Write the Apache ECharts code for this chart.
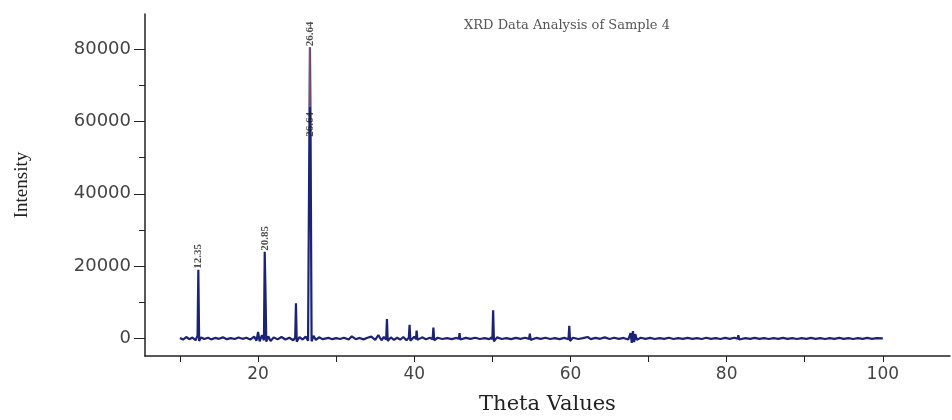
<!DOCTYPE html>
<html>
<head>
<meta charset="utf-8">
<script src="https://cdn.jsdelivr.net/npm/echarts@6/dist/echarts.min.js"></script>
<style>
  html, body { margin: 0; padding: 0; background: #fff; }
  #main { width: 952px; height: 420px; }
</style>
</head>
<body>
<div id="main"></div>
<script>
// XRD scan
var theta = [
  10.0, 10.4, 10.8, 11.2, 11.6, 12.0, 12.25, 12.35, 12.45, 12.7, 13.1, 13.6, 14.0, 14.5, 15.0, 15.5,
  16.0, 16.5, 17.0, 17.5, 18.0, 18.5, 19.0, 19.5, 19.8, 20.0, 20.2, 20.5, 20.75, 20.85, 20.95, 21.05,
  21.3, 21.6, 22.0, 22.5, 23.0, 23.5, 24.0, 24.5, 24.75, 24.85, 24.95, 25.3, 25.7, 26.1, 26.4, 26.64,
  26.72, 26.85, 27.1, 27.4, 27.8, 28.3, 29.0, 29.5, 30.0, 30.5, 31.0, 31.6, 32.0, 32.5, 33.0, 33.5,
  34.0, 34.5, 35.0, 35.4, 35.8, 36.1, 36.4, 36.5, 36.6, 37.0, 37.4, 37.8, 38.2, 38.6, 39.0, 39.3,
  39.4, 39.5, 40.0, 40.22, 40.3, 40.4, 41.0, 41.5, 42.0, 42.35, 42.45, 42.55, 43.0, 43.6, 44.2, 44.8,
  45.4, 45.7, 45.8, 45.9, 46.6, 47.2, 47.8, 48.4, 49.0, 49.6, 49.9, 50.0, 50.1, 50.2, 50.6, 51.2,
  51.8, 52.4, 53.0, 53.6, 54.2, 54.7, 54.8, 54.9, 55.6, 56.2, 56.8, 57.4, 58.0, 58.6, 59.2, 59.75,
  59.85, 59.95, 60.3, 61.0, 61.6, 62.2, 62.6, 63.2, 63.8, 64.4, 65.0, 65.6, 66.2, 66.8, 67.4, 67.7,
  67.85, 68.0, 68.15, 68.3, 68.5, 69.0, 69.6, 70.2, 70.8, 71.4, 72.0, 72.6, 73.2, 73.8, 74.4, 75.0,
  75.6, 76.2, 76.8, 77.4, 78.0, 78.6, 79.2, 79.8, 80.4, 81.0, 81.4, 81.5, 81.6, 82.4, 83.0, 83.6,
  84.2, 84.8, 85.4, 86.0, 86.6, 87.2, 87.8, 88.4, 89.0, 89.6, 90.2, 90.8, 91.4, 92.0, 92.6, 93.2,
  93.8, 94.4, 95.0, 95.6, 96.2, 96.8, 97.4, 98.0, 98.6, 99.2, 100.0
];
var intensity = [
  150, -300, 400, -200, 250, -500, 800, 19000, -700, 300, -150, 200, -250, 150, -100, 300,
  -200, 100, -150, 250, -100, 200, -300, 500, -600, 1800, -800, 900, -500, 24000, 12500, -900,
  600, -700, 300, -250, 400, -300, 200, -500, 200, 9700, -900, 400, -300, 500, -600, 80500,
  57000, -800, 700, -400, 300, -200, 150, -200, 100, -150, 200, -300, 600, -200, 150, -250,
  200, 500, -400, 900, -500, 400, -300, 5400, -700, 300, -400, 200, -300, 400, -500, 200,
  3800, -600, 500, -200, 2200, -400, 300, -200, 200, -200, 3000, -500, 200, -150, 100, -200,
  150, -100, 1500, -300, 150, -100, 200, -150, 100, -200, 300, -300, 7800, -800, 300, -150,
  100, -200, 150, -100, 200, -100, 1300, -400, 150, -100, 200, -150, 100, -200, 150, -200,
  3500, -700, 200, -150, 100, 400, -200, 150, -100, 300, -150, 200, -100, 150, -300, 1500,
  -1200, 2000, -1000, 1200, -400, 200, -100, 150, -150, 100, -100, 200, -150, 100, -100, 150,
  -100, 100, -150, 200, -100, 100, -150, 150, -100, 200, -100, 900, -300, 100, -100, 150,
  -100, 100, -150, 100, -100, 150, -100, 100, -150, 100, -100, 150, -100, 100, -150, 100,
  -100, 150, -100, 100, -150, 100, -100, 150, -100, 100, 0
];

// peak annotations
var peakTheta = [12.35, 20.85, 26.64, 26.64];
var peakHeight = [19000, 24000, 80500, 55500];
var peakText = ['12.35', '20.85', '26.64', '26.64'];

var xTicks = [10, 20, 30, 40, 50, 60, 70, 80, 90, 100];
var xLabels = [20, 40, 60, 80, 100];
var yLabels = [0, 20000, 40000, 60000, 80000];
var yMinor = [10000, 30000, 50000, 70000];

var chart = echarts.init(document.getElementById('main'));

var scan = theta.map(function (t, i) { return [t, intensity[i]]; });
var peaks = peakTheta.map(function (t, i) { return { value: [t, peakHeight[i]], name: peakText[i] }; });

var axisColor = '#222';

chart.setOption({
  animation: false,
  backgroundColor: '#fff',
  title: {
    text: 'XRD Data Analysis of Sample 4',
    left: 562,
    top: 14,
    textAlign: 'center',
    textStyle: { fontFamily: 'DejaVu Serif', fontSize: 13, fontWeight: 'normal', color: '#555' }
  },
  grid: { left: 145, right: 2, top: 14, bottom: 55 },
  xAxis: {
    type: 'value',
    min: 5.52,
    max: 108.6,
    name: 'Theta Values',
    nameLocation: 'middle',
    nameGap: 38,
    nameTextStyle: { fontFamily: 'DejaVu Serif', fontSize: 21, color: '#222' },
    axisLine: { show: true, onZero: false, lineStyle: { color: axisColor, width: 1.5 } },
    axisTick: { show: true, length: 6, customValues: xTicks, lineStyle: { color: axisColor } },
    axisLabel: {
      customValues: xLabels,
      margin: 10,
      fontFamily: 'DejaVu Sans',
      fontSize: 17,
      color: '#444'
    },
    splitLine: { show: false }
  },
  yAxis: [{
    type: 'value',
    min: -4850,
    max: 89700,
    name: 'Intensity',
    nameLocation: 'middle',
    nameGap: 113,
    nameRotate: 90,
    nameTextStyle: { fontFamily: 'Liberation Serif', fontSize: 19, color: '#222' },
    axisLine: { show: true, onZero: false, lineStyle: { color: axisColor, width: 1.5 } },
    axisTick: { show: true, length: 11, customValues: yLabels, lineStyle: { color: axisColor } },
    axisLabel: {
      customValues: yLabels,
      margin: 14,
      fontFamily: 'DejaVu Sans',
      fontSize: 18,
      color: '#444',
      formatter: function (v) { return String(v); }
    },
    splitLine: { show: false }
  }, {
    type: 'value',
    min: -4850,
    max: 89700,
    position: 'left',
    axisLine: { show: false, onZero: false },
    axisTick: { show: true, length: 6, customValues: yMinor, lineStyle: { color: axisColor } },
    axisLabel: { show: false },
    splitLine: { show: false }
  }],
  series: [{
    type: 'line',
    data: scan,
    showSymbol: false,
    lineStyle: { color: '#1c2377', width: 2.2 },
    z: 2
  }, {
    type: 'line',
    data: [[26.64, 64000], [26.64, 80500]],
    showSymbol: false,
    lineStyle: { color: '#c56a5a', width: 1.2 },
    z: 3
  }, {
    type: 'scatter',
    data: peaks,
    symbolSize: 0,
    z: 4,
    label: {
      show: true,
      position: 'top',
      distance: 1,
      rotate: 90,
      align: 'left',
      verticalAlign: 'middle',
      formatter: function (p) { return p.name; },
      fontFamily: 'Liberation Serif',
      fontWeight: 'bold',
      fontSize: 11,
      color: '#222'
    }
  }]
});
</script>
</body>
</html>
